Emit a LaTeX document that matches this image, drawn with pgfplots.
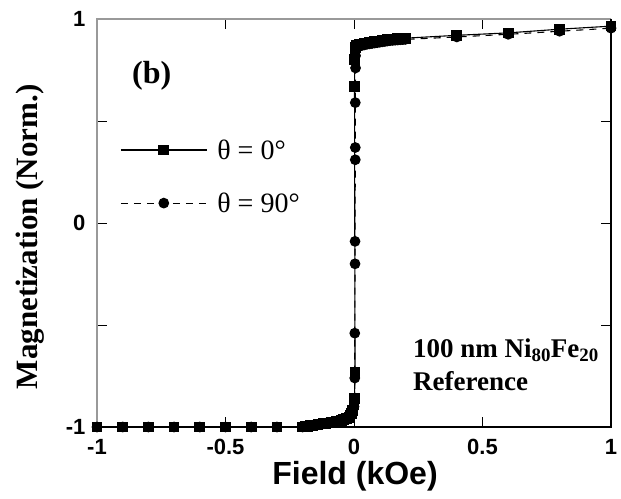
\documentclass[border=0pt]{standalone}
\usepackage{fontspec}
\setmainfont{Liberation Serif}
\setsansfont{Liberation Sans}
\usepackage{pgfplots}
\pgfplotsset{compat=1.18}
\begin{document}
\begin{tikzpicture}
\begin{axis}[
 name=ax,
 scale only axis, width=514pt, height=408pt,
 xmin=-1, xmax=1, ymin=-1, ymax=1,
 xtick={-1,-0.5,0,0.5,1}, xticklabels={-1,-0.5,0,0.5,1},
 ytick={-1,-0.5,0,0.5,1}, yticklabels={-1,,0,,1},
 tick align=inside, major tick length=10pt,
 tick style={black, line width=0.8pt},
 axis line style={draw=none},
 ticklabel style={font=\sffamily\bfseries\fontsize{22}{22}\selectfont},
 xticklabel style={yshift=-9pt},
 yticklabel style={xshift=-8pt},
 xlabel={Field (kOe)},
 xlabel style={font=\sffamily\bfseries\fontsize{32}{32}\selectfont, at={(rel axis cs:0.502,-0.12)}, anchor=center},
 ylabel={Magnetization (Norm.)},
 ylabel style={font=\bfseries\fontsize{31}{31}\selectfont, at={(rel axis cs:-0.130,0.466)}, anchor=center},
 clip=false,
 legend style={draw=none, fill=none, at={(rel axis cs:0.039,0.715)}, anchor=north west,
   font=\fontsize{28}{28}\selectfont, row sep=28pt, column sep=8pt},
 legend cell align=left,
 legend image code/.code={\draw[mark repeat=2,mark phase=2] plot coordinates {(0pt,0pt)(43pt,0pt)(86pt,0pt)};},
 reverse legend,
]
\draw[gray!80, line width=1.6pt] (rel axis cs:0,0) -- (rel axis cs:0,1) -- (rel axis cs:1,1);
\draw[black, line width=1.1pt] (rel axis cs:1,1) -- (rel axis cs:1,0) -- (rel axis cs:0,0);

% theta = 90 deg
\addplot[black, line width=1.1pt, dash pattern=on 7pt off 6pt, mark=*, mark size=4.8pt, mark options={solid}] coordinates {
(-1,-1) (-0.9,-1) (-0.8,-1) (-0.7,-1) (-0.6,-1) (-0.5,-1) (-0.4,-1) (-0.3,-1)
(-0.2,-1.0) (-0.19,-0.998) (-0.18,-0.996) (-0.17,-0.994) (-0.16,-0.992) (-0.15,-0.990)
(-0.14,-0.988) (-0.13,-0.986) (-0.12,-0.984) (-0.11,-0.982) (-0.10,-0.980) (-0.09,-0.978)
(-0.08,-0.976) (-0.07,-0.973) (-0.06,-0.970) (-0.05,-0.967) (-0.04,-0.963) (-0.03,-0.958)
(-0.02,-0.952) (-0.015,-0.945) (-0.01,-0.935) (-0.005,-0.92) (0.0,-0.90) (0.002,-0.87)
(0.003,-0.76) (0.003,-0.54) (0.004,-0.20) (0.004,-0.09) (0.005,0.31) (0.005,0.37)
(0.005,0.59) (0.006,0.76) (0.006,0.82) (0.008,0.85) (0.012,0.862)
(0.02,0.866) (0.03,0.870) (0.04,0.873) (0.05,0.876) (0.06,0.878) (0.07,0.880) (0.08,0.882)
(0.09,0.884) (0.10,0.886) (0.11,0.888) (0.12,0.890) (0.13,0.892) (0.14,0.894) (0.15,0.895)
(0.16,0.896) (0.17,0.897) (0.18,0.898) (0.19,0.899) (0.2,0.900)
(0.4,0.912) (0.6,0.925) (0.8,0.940) (1.0,0.955)
};
\addlegendentry{θ = 90°}

% theta = 0 deg
\addplot[black, line width=1.1pt, mark=square*, mark size=4.8pt] coordinates {
(-1,-1) (-0.9,-1) (-0.8,-1) (-0.7,-1) (-0.6,-1) (-0.5,-1) (-0.4,-1) (-0.3,-1)
(-0.2,-1.0) (-0.19,-0.998) (-0.18,-0.996) (-0.17,-0.994) (-0.16,-0.992) (-0.15,-0.990)
(-0.14,-0.988) (-0.13,-0.986) (-0.12,-0.984) (-0.11,-0.982) (-0.10,-0.980) (-0.09,-0.978)
(-0.08,-0.976) (-0.07,-0.973) (-0.06,-0.970) (-0.05,-0.967) (-0.04,-0.963) (-0.03,-0.958)
(-0.02,-0.952) (-0.015,-0.945) (-0.01,-0.935) (-0.005,-0.92) (0.0,-0.89) (0.002,-0.86)
(0.004,-0.73) (0.002,0.67) (0.003,0.80) (0.004,0.84) (0.006,0.86) (0.01,0.870)
(0.02,0.874) (0.03,0.877) (0.04,0.880) (0.05,0.882) (0.06,0.884) (0.07,0.886) (0.08,0.888)
(0.09,0.890) (0.10,0.892) (0.11,0.894) (0.12,0.896) (0.13,0.898) (0.14,0.900) (0.15,0.901)
(0.16,0.902) (0.17,0.903) (0.18,0.904) (0.19,0.905) (0.2,0.906)
(0.4,0.920) (0.6,0.932) (0.8,0.950) (1.0,0.965)
};
\addlegendentry{θ = 0°}

\node[font=\bfseries\fontsize{32}{32}\selectfont] at (axis cs:-0.787,0.72) {(b)};
\node[font=\bfseries\fontsize{27}{27}\selectfont, anchor=base west, inner sep=0pt] at (axis cs:0.229,-0.657) {100 nm Ni\textsubscript{80}Fe\textsubscript{20}};
\node[font=\bfseries\fontsize{27}{27}\selectfont, anchor=base west, inner sep=0pt] at (axis cs:0.229,-0.819) {Reference};
\end{axis}
\pgfresetboundingbox
\path[use as bounding box] ([shift={(-97pt,-71pt)}]ax.south west) rectangle ([shift={(10pt,19pt)}]ax.north east);
\end{tikzpicture}
\end{document}
